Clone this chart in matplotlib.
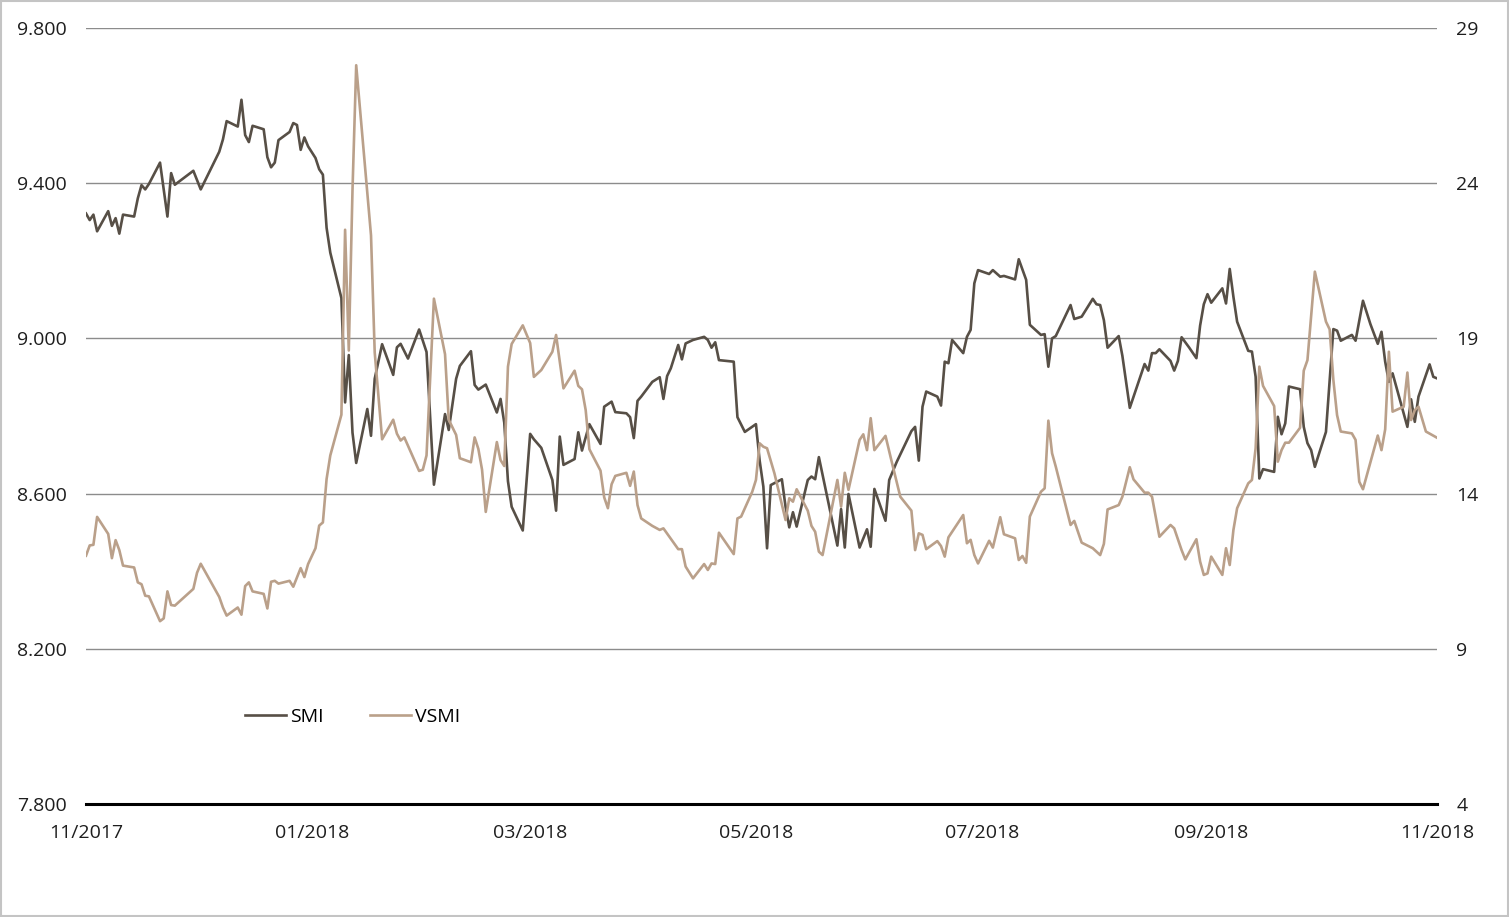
"""
SMI vs. VSMI (Nov 2017 - Nov 2018), zwei Achsen.
"""

import matplotlib
matplotlib.use("Agg")
import matplotlib.pyplot as plt
import matplotlib.dates as mdates
from matplotlib.ticker import FuncFormatter
from matplotlib.patches import Rectangle
import pandas as pd

# ── Daten ──────────────────────────────────────────────────
smi_dates = [
    "2017-11-01", "2017-11-02", "2017-11-03", "2017-11-04", "2017-11-07", "2017-11-08", "2017-11-09",
    "2017-11-10", "2017-11-11", "2017-11-14", "2017-11-15", "2017-11-16", "2017-11-17", "2017-11-18",
    "2017-11-21", "2017-11-23", "2017-11-24", "2017-11-25", "2017-11-30",
    "2017-12-02", "2017-12-07", "2017-12-08", "2017-12-09", "2017-12-12", "2017-12-13", "2017-12-14",
    "2017-12-15", "2017-12-16", "2017-12-19", "2017-12-20", "2017-12-21", "2017-12-22", "2017-12-23",
    "2017-12-26", "2017-12-27", "2017-12-28", "2017-12-29", "2017-12-30", "2017-12-31",
    "2018-01-02", "2018-01-03", "2018-01-04", "2018-01-05", "2018-01-06", "2018-01-09", "2018-01-10",
    "2018-01-11", "2018-01-12", "2018-01-13", "2018-01-16", "2018-01-17", "2018-01-18", "2018-01-20",
    "2018-01-23", "2018-01-24", "2018-01-25", "2018-01-27", "2018-01-30",
    "2018-02-01", "2018-02-03", "2018-02-06", "2018-02-07", "2018-02-09", "2018-02-10", "2018-02-13",
    "2018-02-14", "2018-02-15", "2018-02-17", "2018-02-20", "2018-02-21", "2018-02-22", "2018-02-23",
    "2018-02-24", "2018-02-27",
    "2018-03-01", "2018-03-02", "2018-03-04", "2018-03-07", "2018-03-08", "2018-03-09", "2018-03-10",
    "2018-03-13", "2018-03-14", "2018-03-15", "2018-03-17", "2018-03-20", "2018-03-21", "2018-03-23",
    "2018-03-24", "2018-03-27", "2018-03-28", "2018-03-29", "2018-03-30", "2018-03-31",
    "2018-04-03", "2018-04-05", "2018-04-06", "2018-04-07", "2018-04-08", "2018-04-10", "2018-04-11",
    "2018-04-12", "2018-04-14", "2018-04-17", "2018-04-18", "2018-04-19", "2018-04-20", "2018-04-21",
    "2018-04-25", "2018-04-26", "2018-04-28",
    "2018-05-01", "2018-05-02", "2018-05-03", "2018-05-04", "2018-05-05", "2018-05-08", "2018-05-09",
    "2018-05-10", "2018-05-11", "2018-05-12", "2018-05-15", "2018-05-16", "2018-05-17", "2018-05-18",
    "2018-05-23", "2018-05-24", "2018-05-25", "2018-05-26", "2018-05-29", "2018-05-31",
    "2018-06-01", "2018-06-02", "2018-06-05", "2018-06-06", "2018-06-08", "2018-06-12", "2018-06-13",
    "2018-06-14", "2018-06-15", "2018-06-16", "2018-06-19", "2018-06-20", "2018-06-21", "2018-06-22",
    "2018-06-23", "2018-06-26", "2018-06-27", "2018-06-28", "2018-06-29", "2018-06-30",
    "2018-07-03", "2018-07-04", "2018-07-06", "2018-07-07", "2018-07-09", "2018-07-10", "2018-07-11",
    "2018-07-13", "2018-07-14", "2018-07-17", "2018-07-18", "2018-07-19", "2018-07-20", "2018-07-21",
    "2018-07-25", "2018-07-26", "2018-07-28", "2018-07-31",
    "2018-08-01", "2018-08-02", "2018-08-03", "2018-08-04", "2018-08-07", "2018-08-08", "2018-08-09",
    "2018-08-10", "2018-08-14", "2018-08-15", "2018-08-16", "2018-08-17", "2018-08-18", "2018-08-21",
    "2018-08-22", "2018-08-23", "2018-08-24", "2018-08-26", "2018-08-28", "2018-08-29", "2018-08-30",
    "2018-08-31",
    "2018-09-01", "2018-09-04", "2018-09-05", "2018-09-06", "2018-09-07", "2018-09-08", "2018-09-11",
    "2018-09-12", "2018-09-13", "2018-09-14", "2018-09-15", "2018-09-18", "2018-09-19", "2018-09-20",
    "2018-09-21", "2018-09-22", "2018-09-25", "2018-09-26", "2018-09-27", "2018-09-28", "2018-09-29",
    "2018-10-02", "2018-10-04", "2018-10-05", "2018-10-06", "2018-10-09", "2018-10-10", "2018-10-12",
    "2018-10-14", "2018-10-16", "2018-10-17", "2018-10-18", "2018-10-19", "2018-10-20", "2018-10-24",
    "2018-10-25", "2018-10-26", "2018-10-27", "2018-10-30", "2018-10-31",
    "2018-11-01",
]
smi_values = [
    9322, 9305, 9319, 9276, 9328, 9290, 9310, 9270, 9319, 9314, 9361, 9395, 9384, 9398,
    9453, 9314, 9426, 9396, 9432,
    9384, 9481, 9513, 9560, 9546, 9615, 9524, 9506, 9548, 9539, 9467, 9441, 9453, 9511,
    9532, 9555, 9550, 9486, 9518, 9495,
    9465, 9436, 9422, 9285, 9221, 9104, 8835, 8957, 8757, 8679, 8818, 8749, 8896, 8985,
    8906, 8977, 8986, 8948, 9023,
    8965, 8623, 8805, 8764, 8896, 8929, 8967, 8880, 8868, 8881, 8809, 8844, 8783, 8632,
    8566, 8505,
    8754, 8740, 8718, 8635, 8556, 8747, 8674, 8689, 8758, 8711, 8779, 8728, 8824, 8837,
    8810, 8807, 8797, 8743, 8839, 8850,
    8888, 8900, 8844, 8903, 8923, 8983, 8946, 8987, 8996, 9004, 8996, 8976, 8990, 8944,
    8940, 8797, 8759,
    8779, 8685, 8618, 8459, 8622, 8637, 8566, 8513, 8552, 8515, 8635, 8644, 8637, 8694,
    8466, 8560, 8461, 8599, 8461, 8508,
    8463, 8612, 8530, 8635, 8681, 8761, 8772, 8685, 8824, 8863, 8850, 8827, 8940, 8936,
    8996, 8962, 9004, 9022, 9142, 9176,
    9166, 9176, 9159, 9161, 9155, 9152, 9204, 9151, 9035, 9009, 9011, 8927, 9000, 9006,
    9086, 9050, 9056, 9102,
    9088, 9086, 9047, 8976, 9006, 8955, 8888, 8821, 8934, 8917, 8962, 8962, 8972, 8942,
    8917, 8942, 9003, 8977, 8949, 9033, 9088, 9114,
    9092, 9129, 9090, 9179, 9107, 9043, 8968, 8966, 8901, 8639, 8663, 8656, 8798, 8753,
    8781, 8876, 8869, 8772, 8730, 8712, 8669,
    8759, 9024, 9020, 8994, 9009, 8994, 9097, 9037, 8986, 9017, 8940, 8888, 8910, 8772,
    8843, 8785, 8850, 8933, 8901,
    8897,
]

vsmi_dates = [
    "2017-11-01", "2017-11-02", "2017-11-03", "2017-11-04", "2017-11-07", "2017-11-08", "2017-11-09",
    "2017-11-10", "2017-11-11", "2017-11-14", "2017-11-15", "2017-11-16", "2017-11-17", "2017-11-18",
    "2017-11-21", "2017-11-22", "2017-11-23", "2017-11-24", "2017-11-25", "2017-11-30",
    "2017-12-01", "2017-12-02", "2017-12-07", "2017-12-08", "2017-12-09", "2017-12-12", "2017-12-13",
    "2017-12-14", "2017-12-15", "2017-12-16", "2017-12-19", "2017-12-20", "2017-12-21", "2017-12-22",
    "2017-12-23", "2017-12-26", "2017-12-27", "2017-12-29", "2017-12-30", "2017-12-31",
    "2018-01-02", "2018-01-03", "2018-01-04", "2018-01-05", "2018-01-06", "2018-01-09", "2018-01-10",
    "2018-01-11", "2018-01-12", "2018-01-13", "2018-01-17", "2018-01-18", "2018-01-20", "2018-01-23",
    "2018-01-24", "2018-01-25", "2018-01-26", "2018-01-30", "2018-01-31",
    "2018-02-01", "2018-02-03", "2018-02-06", "2018-02-07", "2018-02-09", "2018-02-10", "2018-02-13",
    "2018-02-14", "2018-02-15", "2018-02-16", "2018-02-17", "2018-02-20", "2018-02-21", "2018-02-22",
    "2018-02-23", "2018-02-24", "2018-02-27",
    "2018-03-01", "2018-03-02", "2018-03-04", "2018-03-07", "2018-03-08", "2018-03-10", "2018-03-13",
    "2018-03-14", "2018-03-15", "2018-03-16", "2018-03-17", "2018-03-20", "2018-03-21", "2018-03-22",
    "2018-03-23", "2018-03-24", "2018-03-27", "2018-03-28", "2018-03-29", "2018-03-30", "2018-03-31",
    "2018-04-03", "2018-04-05", "2018-04-06", "2018-04-10", "2018-04-11", "2018-04-12", "2018-04-14",
    "2018-04-17", "2018-04-18", "2018-04-19", "2018-04-20", "2018-04-21", "2018-04-25", "2018-04-26",
    "2018-04-27", "2018-04-30",
    "2018-05-01", "2018-05-02", "2018-05-03", "2018-05-04", "2018-05-06", "2018-05-09", "2018-05-10",
    "2018-05-11", "2018-05-12", "2018-05-15", "2018-05-16", "2018-05-17", "2018-05-18", "2018-05-19",
    "2018-05-23", "2018-05-24", "2018-05-25", "2018-05-26", "2018-05-29", "2018-05-30", "2018-05-31",
    "2018-06-01", "2018-06-02", "2018-06-05", "2018-06-07", "2018-06-09", "2018-06-12", "2018-06-13",
    "2018-06-14", "2018-06-15", "2018-06-16", "2018-06-19", "2018-06-20", "2018-06-21", "2018-06-22",
    "2018-06-26", "2018-06-27", "2018-06-28", "2018-06-29", "2018-06-30",
    "2018-07-03", "2018-07-04", "2018-07-06", "2018-07-07", "2018-07-10", "2018-07-11", "2018-07-12",
    "2018-07-13", "2018-07-14", "2018-07-17", "2018-07-18", "2018-07-19", "2018-07-20", "2018-07-21",
    "2018-07-25", "2018-07-26", "2018-07-28", "2018-07-31",
    "2018-08-02", "2018-08-03", "2018-08-04", "2018-08-07", "2018-08-08", "2018-08-09", "2018-08-10",
    "2018-08-11", "2018-08-14", "2018-08-15", "2018-08-16", "2018-08-18", "2018-08-21", "2018-08-22",
    "2018-08-24", "2018-08-25", "2018-08-28", "2018-08-29", "2018-08-30", "2018-08-31",
    "2018-09-01", "2018-09-04", "2018-09-05", "2018-09-06", "2018-09-07", "2018-09-08", "2018-09-11",
    "2018-09-12", "2018-09-13", "2018-09-14", "2018-09-15", "2018-09-18", "2018-09-19", "2018-09-20",
    "2018-09-21", "2018-09-22", "2018-09-25", "2018-09-26", "2018-09-27", "2018-09-29",
    "2018-10-02", "2018-10-03", "2018-10-04", "2018-10-05", "2018-10-06", "2018-10-09", "2018-10-10",
    "2018-10-11", "2018-10-12", "2018-10-16", "2018-10-17", "2018-10-18", "2018-10-19", "2018-10-20",
    "2018-10-23", "2018-10-24", "2018-10-25", "2018-10-26", "2018-10-27", "2018-10-29",
    "2018-11-01",
]
vsmi_values = [
    12.00, 12.33, 12.35, 13.25, 12.70, 11.92, 12.50, 12.18, 11.68, 11.62, 11.14, 11.08, 10.71, 10.69,
    9.89, 9.98, 10.85, 10.41, 10.39, 10.93,
    11.45, 11.74, 10.67, 10.33, 10.07, 10.33, 10.10, 11.02, 11.14, 10.85, 10.77, 10.30, 11.16, 11.19,
    11.10, 11.19, 11.00, 11.60, 11.31, 11.73,
    12.24, 12.97, 13.07, 14.47, 15.23, 16.54, 22.50, 18.61, 23.78, 27.80, 22.32, 18.55, 15.75, 16.38,
    15.93, 15.71, 15.81, 14.73, 14.77,
    15.23, 20.28, 18.49, 16.38, 15.89, 15.14, 15.01, 15.81, 15.44, 14.77, 13.41, 15.66, 15.08, 14.89,
    18.09, 18.82, 19.42,
    18.85, 17.76, 17.98, 18.57, 19.11, 17.39, 17.96, 17.47, 17.36, 16.69, 15.43, 14.74, 13.88, 13.53,
    14.30, 14.57, 14.67, 14.25, 14.71, 13.63, 13.20,
    12.96, 12.83, 12.88, 12.21, 12.21, 11.65, 11.27, 11.73, 11.54, 11.75, 11.73, 12.74, 12.05, 13.20,
    13.26, 14.06,
    14.44, 15.62, 15.51, 15.46, 14.65, 13.15, 13.85, 13.74, 14.14, 13.45, 12.96, 12.77, 12.13, 12.02,
    14.44, 13.58, 14.67, 14.12, 15.73, 15.91, 15.40,
    16.43, 15.40, 15.86, 14.87, 13.90, 13.45, 12.18, 12.72, 12.67, 12.21, 12.47, 12.31, 11.97, 12.59,
    13.31, 12.40, 12.51, 12.02, 11.75,
    12.48, 12.26, 13.24, 12.69, 12.56, 11.86, 11.99, 11.77, 13.26, 14.06, 14.17, 16.35, 15.30, 14.87,
    12.99, 13.12, 12.42, 12.24,
    12.02, 12.38, 13.49, 13.63, 13.90, 14.38, 14.85, 14.46, 14.03, 14.03, 13.90, 12.61, 12.99, 12.88,
    12.18, 11.88, 12.53, 11.81, 11.38, 11.43,
    11.97, 11.38, 12.24, 11.70, 12.83, 13.53, 14.33, 14.44, 15.46, 18.09, 17.47, 16.82, 15.03, 15.40,
    15.64, 15.64, 16.12, 17.96, 18.30, 21.15,
    19.54, 19.29, 17.66, 16.53, 16.00, 15.94, 15.73, 14.38, 14.14, 15.87, 15.40, 16.07, 18.57, 16.64,
    16.80, 17.90, 16.37, 16.69, 16.80, 16.00,
    15.80,
]

x_start, x_end = "2017-11-01", "2018-11-01"
smi_ticks = [7800, 8200, 8600, 9000, 9400, 9800]
vsmi_ticks = [4, 9, 14, 19, 24, 29]

COR_SMI = "#574f46"
COR_VSMI = "#baa08a"
COR_TEXTO = "#1e1e1e"

plt.rcParams["font.family"] = ["Open Sans", "DejaVu Sans"]

fig = plt.figure(figsize=(15.09, 9.17), dpi=100)
ax = fig.add_axes([86 / 1509, 1 - 804 / 917, (1437 - 86) / 1509, (804 - 28) / 917])
ax2 = ax.twinx()

linha_smi, = ax.plot(pd.to_datetime(smi_dates), smi_values, color=COR_SMI, linewidth=1.9, label="SMI")
linha_vsmi, = ax2.plot(pd.to_datetime(vsmi_dates), vsmi_values, color=COR_VSMI, linewidth=1.9, label="VSMI")

# ── Eixos ──────────────────────────────────────────────────
ax.set_xlim(pd.Timestamp(x_start), pd.Timestamp(x_end))
ax.set_ylim(smi_ticks[0], smi_ticks[-1])
ax2.set_ylim(vsmi_ticks[0], vsmi_ticks[-1])
ax.set_yticks(smi_ticks)
ax2.set_yticks(vsmi_ticks)
ax.yaxis.set_major_formatter(FuncFormatter(lambda v, _: f"{v:,.0f}".replace(",", ".")))

ax.xaxis.set_major_locator(mdates.MonthLocator(bymonth=[1, 3, 5, 7, 9, 11]))
ax.xaxis.set_major_formatter(mdates.DateFormatter("%m/%Y"))

ax.tick_params(axis="y", length=0, pad=14, labelsize=14, labelcolor=COR_TEXTO)
ax2.tick_params(axis="y", length=0, pad=14, labelsize=14, labelcolor=COR_TEXTO)
ax.tick_params(axis="x", length=0, pad=14.5, labelsize=14, labelcolor=COR_TEXTO)

ax.yaxis.grid(True, color="#8c8c8c", linewidth=1)
ax.set_axisbelow(True)
for lado in ["top", "left", "right"]:
    ax.spines[lado].set_visible(False)
for lado in ax2.spines:
    ax2.spines[lado].set_visible(False)
ax.spines["bottom"].set_color("black")
ax.spines["bottom"].set_linewidth(2.2)
ax.spines["bottom"].set_zorder(5)

# ── Legenda ────────────────────────────────────────────────
ax2.legend(
    handles=[linha_smi, linha_vsmi],
    loc="center left",
    bbox_to_anchor=(245 / 1509, 1 - 717 / 917),
    bbox_transform=fig.transFigure,
    ncol=2,
    frameon=False,
    fontsize=14,
    handlelength=2.1,
    handletextpad=0.2,
    columnspacing=2.4,
    borderpad=0,
    borderaxespad=0,
)

# moldura cinza em volta da figura
fig.add_artist(Rectangle((0.0007, 0.001), 0.9986, 0.998, transform=fig.transFigure,
                         fill=False, edgecolor="#c4c4c4", linewidth=1.5))

fig.savefig("out.png", dpi=100)
plt.close(fig)
